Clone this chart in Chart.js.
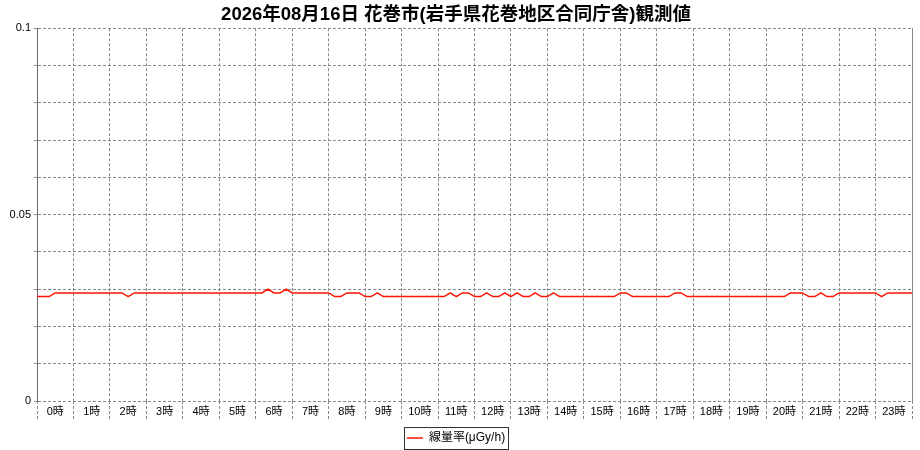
<!DOCTYPE html>
<html>
<head>
<meta charset="utf-8">
<script src="https://cdn.jsdelivr.net/npm/chart.js@4/dist/chart.umd.min.js"></script>
<style>
  html, body { margin: 0; padding: 0; background: #fff; }
  #wrap { width: 920px; height: 450px; position: relative; }
</style>
</head>
<body>
<div id="wrap"><canvas id="chart"></canvas></div>
<script>
const TITLE = '2026年08月16日 花巻市(岩手県花巻地区合同庁舎)観測値';
const SERIES_LABEL = '線量率(μGy/h)';
const HOUR_SUFFIX = '時';

// 10分間隔の観測値 (0:00 〜 24:00, μGy/h)
const STEP_MINUTES = 10;
const doseRate = [
  0.028, 0.028, 0.028, 0.029, 0.029, 0.029, // 0時
  0.029, 0.029, 0.029, 0.029, 0.029, 0.029, // 1時
  0.029, 0.029, 0.029, 0.028, 0.029, 0.029, // 2時
  0.029, 0.029, 0.029, 0.029, 0.029, 0.029, // 3時
  0.029, 0.029, 0.029, 0.029, 0.029, 0.029, // 4時
  0.029, 0.029, 0.029, 0.029, 0.029, 0.029, // 5時
  0.029, 0.029, 0.030, 0.029, 0.029, 0.030, // 6時
  0.029, 0.029, 0.029, 0.029, 0.029, 0.029, // 7時
  0.029, 0.028, 0.028, 0.029, 0.029, 0.029, // 8時
  0.028, 0.028, 0.029, 0.028, 0.028, 0.028, // 9時
  0.028, 0.028, 0.028, 0.028, 0.028, 0.028, // 10時
  0.028, 0.028, 0.029, 0.028, 0.029, 0.029, // 11時
  0.028, 0.028, 0.029, 0.028, 0.028, 0.029, // 12時
  0.028, 0.029, 0.028, 0.028, 0.029, 0.028, // 13時
  0.028, 0.029, 0.028, 0.028, 0.028, 0.028, // 14時
  0.028, 0.028, 0.028, 0.028, 0.028, 0.028, // 15時
  0.029, 0.029, 0.028, 0.028, 0.028, 0.028, // 16時
  0.028, 0.028, 0.028, 0.029, 0.029, 0.028, // 17時
  0.028, 0.028, 0.028, 0.028, 0.028, 0.028, // 18時
  0.028, 0.028, 0.028, 0.028, 0.028, 0.028, // 19時
  0.028, 0.028, 0.028, 0.028, 0.029, 0.029, // 20時
  0.029, 0.028, 0.028, 0.029, 0.028, 0.028, // 21時
  0.029, 0.029, 0.029, 0.029, 0.029, 0.029, // 22時
  0.029, 0.028, 0.029, 0.029, 0.029, 0.029, // 23時
  0.029                                     // 24:00
];

const Y_MIN = 0;
const Y_MAX = 0.1;
const Y_STEP = 0.01;
const HOURS = 24;

const GRID = '#8a8a8a';
const LINE = '#ff1500';

Chart.defaults.font.family = "'Liberation Sans', 'Noto Sans CJK JP', sans-serif";
Chart.defaults.color = '#000';

// 凡例の枠線
const legendFrame = {
  id: 'legendFrame',
  afterDraw(chart) {
    const hb = chart.legend && chart.legend.legendHitBoxes && chart.legend.legendHitBoxes[0];
    if (!hb) return;
    const ctx = chart.ctx;
    ctx.save();
    ctx.strokeStyle = '#333';
    ctx.lineWidth = 1;
    ctx.strokeRect(Math.round(hb.left - 3) + 0.5, Math.round(hb.top - 5) + 0.5,
      Math.round(hb.width + 6), Math.round(hb.height + 10));
    ctx.restore();
  },
};

const points = doseRate.map((v, i) => ({ x: (i * STEP_MINUTES) / 60, y: v }));

new Chart(document.getElementById('chart'), {
  type: 'line',
  data: {
    datasets: [
      {
        label: SERIES_LABEL,
        data: points,
        borderColor: LINE,
        backgroundColor: LINE,
        borderWidth: 1.5,
        pointRadius: 0,
        tension: 0,
        fill: false,
      },
    ],
  },
  options: {
    responsive: true,
    maintainAspectRatio: false,
    animation: false,
    layout: { padding: { left: 0, right: 8, top: 0, bottom: -4 } },
    scales: {
      x: {
        type: 'linear',
        min: 0,
        max: HOURS,
        afterFit: (s) => { s.height = 30; },
        afterBuildTicks: (s) => {
          const t = [];
          for (let i = 0; i <= HOURS * 2; i++) t.push({ value: i / 2 });
          s.ticks = t;
        },
        ticks: {
          autoSkip: false,
          maxRotation: 0,
          padding: -14,
          font: { size: 11 },
          callback: (v) => (Math.abs(v % 1 - 0.5) < 1e-6 ? `${Math.floor(v)}${HOUR_SUFFIX}` : ''),
        },
        grid: {
          color: (c) => (c.tick && Math.abs(c.tick.value % 1) < 1e-6 ? GRID : 'rgba(0,0,0,0)'),
          tickLength: 18,
          tickBorderDash: [3, 2],
        },
        border: { display: false, dash: [3, 2] },
      },
      y: {
        min: Y_MIN,
        max: Y_MAX,
        afterFit: (s) => { s.width = 37; },
        ticks: {
          stepSize: Y_STEP,
          padding: 3,
          font: { size: 11 },
          callback: (v) => {
            const n = Math.round(v * 100);
            return n % 5 === 0 ? String(n / 100) : '';
          },
        },
        grid: { color: GRID, tickLength: 3 },
        border: { display: true, color: '#666', width: 1, dash: [3, 2] },
      },
      yRight: {
        position: 'right',
        min: Y_MIN,
        max: Y_MAX,
        afterFit: (s) => { s.width = 0; },
        ticks: { display: false },
        grid: { drawOnChartArea: false, drawTicks: false },
        border: { display: true, color: '#888', width: 1 },
      },
    },
    plugins: {
      title: {
        display: true,
        text: TITLE,
        color: '#000',
        font: { size: 18.5, weight: 'bold' },
        padding: { top: 4, bottom: 2 },
      },
      legend: {
        position: 'bottom',
        labels: {
          usePointStyle: true,
          pointStyle: 'line',
          pointStyleWidth: 16,
          font: { size: 12 },
          padding: 1,
        },
      },
      tooltip: { enabled: false },
    },
  },
  plugins: [legendFrame],
});
</script>
</body>
</html>
